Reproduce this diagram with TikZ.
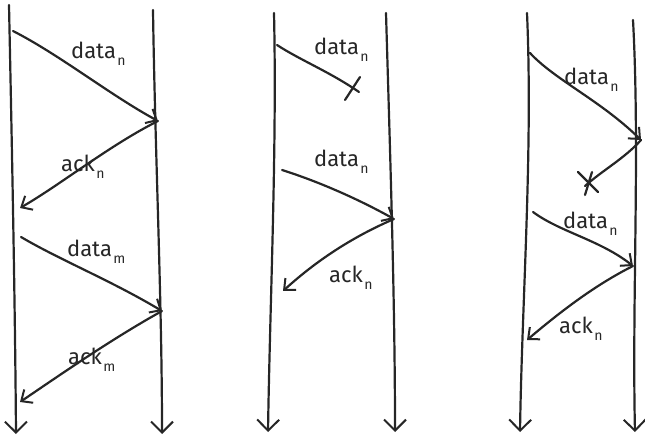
\documentclass[tikz,border=0pt]{standalone}
\usepackage{fontspec}
\setmainfont{Fira Sans}
\usetikzlibrary{arrows.meta}
\newcommand{\lowsub}[1]{\kern1.5pt\raisebox{-7pt}{\fontsize{14}{16}\selectfont #1}}
\begin{document}
\begin{tikzpicture}[x=1pt,y=-1pt,
  line width=2.2pt, line cap=round, line join=round, color=black!85,
  msg/.style={-{Straight Barb[length=9pt,width=16pt,line width=2pt]}},
  life/.style={-{Straight Barb[length=11pt,width=22pt,line width=2pt]}},
  lbl/.style={font=\fontsize{22}{26}\selectfont, inner sep=0pt, anchor=base west},
  cross/.style={line width=2.2pt}]
\useasboundingbox (0,0) rectangle (645,438);
% ---------------- diagram 1 ----------------
\coordinate (a1t) at (9,5);   \coordinate (a1b) at (16,434);
\coordinate (b1t) at (153,10); \coordinate (b1b) at (162,434);
\draw[life] (a1t) .. controls (12,150) and (15,300) .. (a1b);
\draw[life] (b1t) .. controls (155,150) and (162,300) .. (b1b);
\coordinate (d1s) at (13,31);  \coordinate (d1e) at (158,121);
\coordinate (k1e) at (20,208);
\coordinate (d2s) at (21,237); \coordinate (d2e) at (162,311);
\coordinate (k2e) at (20,402);
\draw[msg] (d1s) .. controls (60,55) and (110,95) .. (d1e);
\draw[msg] (d1e) .. controls (110,145) and (60,185) .. (k1e);
\draw[msg] (d2s) .. controls (60,260) and (110,280) .. (d2e);
\draw[msg] (d2e) .. controls (110,340) and (60,375) .. (k2e);
\node[lbl] (l1) at (70,59) {data\lowsub{n}};
\node[lbl] (l2) at (60,172) {ack\lowsub{n}};
\node[lbl] (l3) at (66,257) {data\lowsub{m}};
\node[lbl] (l4) at (67,364) {ack\lowsub{m}};
% ---------------- diagram 2 ----------------
\coordinate (a2t) at (274,13);  \coordinate (a2b) at (268,432);
\coordinate (b2t) at (386,13);  \coordinate (b2b) at (395,432);
\draw[life] (a2t) .. controls (277,150) and (270,300) .. (a2b);
\draw[life] (b2t) .. controls (390,150) and (395,300) .. (b2b);
\coordinate (e1s) at (277,45);  \coordinate (e1x) at (359,92);
\draw (e1s) .. controls (300,60) and (330,72) .. (e1x);
\draw[cross] (345,100) -- (360,77);
\coordinate (e2s) at (282,170); \coordinate (e2e) at (394,219);
\coordinate (e3e) at (283,291);
\draw[msg] (e2s) .. controls (320,182) and (360,200) .. (e2e);
\draw[msg] (e2e) .. controls (350,238) and (315,262) .. (e3e);
\node[lbl] (m1) at (313,55) {data\lowsub{n}};
\node[lbl] (m2) at (313,167) {data\lowsub{n}};
\node[lbl] (m3) at (328,283) {ack\lowsub{n}};
% ---------------- diagram 3 ----------------
\coordinate (a3t) at (527,13);  \coordinate (a3b) at (520,432);
\coordinate (b3t) at (633,20);  \coordinate (b3b) at (635,432);
\draw[life] (a3t) .. controls (533,150) and (522,300) .. (a3b);
\draw[life] (b3t) .. controls (640,150) and (632,300) .. (b3b);
\coordinate (f1s) at (530,53);  \coordinate (f1e) at (641,140);
\coordinate (f2x) at (585,186);
\draw[msg] (f1s) .. controls (555,80) and (600,100) .. (f1e);
\draw (f1e) .. controls (625,158) and (603,170) .. (f2x);
\draw[cross] (578,172) -- (598,192);
\draw[cross] (592,172) -- (585,195);
\coordinate (f3s) at (533,212); \coordinate (f3e) at (633,266);
\coordinate (f4e) at (527,340);
\draw[msg] (f3s) .. controls (560,232) and (600,240) .. (f3e);
\draw[msg] (f3e) .. controls (595,285) and (560,312) .. (f4e);
\node[lbl] (n1) at (563,85) {data\lowsub{n}};
\node[lbl] (n2) at (562,229) {data\lowsub{n}};
\node[lbl] (n3) at (558,333) {ack\lowsub{n}};
\end{tikzpicture}
\end{document}
